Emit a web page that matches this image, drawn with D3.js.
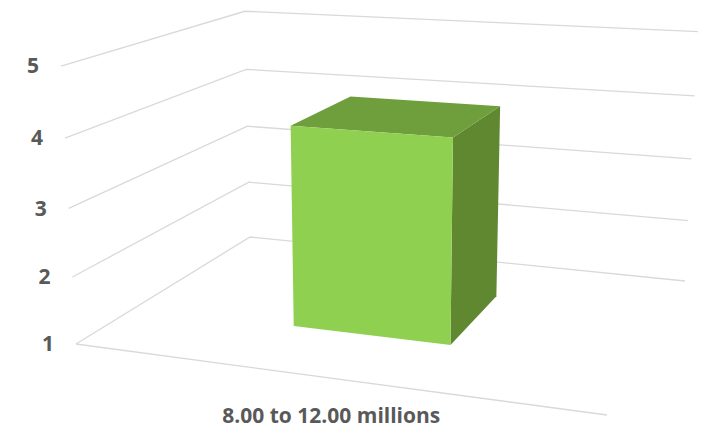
<!DOCTYPE html>
<html>
<head>
<meta charset="utf-8">
<script src="https://cdn.jsdelivr.net/npm/d3@7"></script>
<style>
body { margin: 0; background: #fff; }
text { font-family: "Open Sans", Lato, sans-serif; font-weight: bold; fill: #595959; }
</style>
</head>
<body>
<svg id="chart" width="706" height="435"></svg>
<script>
var categories = ["8.00 to 12.00 millions"];
var values = [4];
var yTicks = [1, 2, 3, 4, 5];

// corners of the 3d frame on screen (layout, not data)
var floorPts = [[0,0,76,344],[0,1,250,237],[1,1,685,281],[1,0,607,415]];
var topPts = [[0,0,61,66],[0,1,245,10],[1,1,698,33]];

function solve(A, b){
	var n = b.length, M = A.map(function(r, i){ return r.concat([b[i]]); });
	for(var i=0; i<n; i++){
		var p = i;
		for(var k=i+1; k<n; k++) if(Math.abs(M[k][i]) > Math.abs(M[p][i])) p = k;
		var t = M[i]; M[i] = M[p]; M[p] = t;
		for(var k=i+1; k<n; k++){
			var f = M[k][i] / M[i][i];
			for(var j=i; j<=n; j++) M[k][j] -= f * M[i][j];
		}
	}
	var x = new Array(n);
	for(var i=n-1; i>=0; i--){
		var s = M[i][n];
		for(var j=i+1; j<n; j++) s -= M[i][j] * x[j];
		x[i] = s / M[i][i];
	}
	return x;
}

// floor homography (X,Z) -> screen
var A = [], b = [];
floorPts.forEach(function(p){
	A.push([p[0], p[1], 1, 0, 0, 0, -p[2]*p[0], -p[2]*p[1]]); b.push(p[2]);
	A.push([0, 0, 0, p[0], p[1], 1, -p[3]*p[0], -p[3]*p[1]]); b.push(p[3]);
});
var h = solve(A, b);
function base(X, Z){
	return [h[0]*X + h[1]*Z + h[2], h[3]*X + h[4]*Z + h[5], h[6]*X + h[7]*Z + 1];
}
// vertical column, least squares over the top corners
var N = [[0,0,0],[0,0,0],[0,0,0]], r = [0,0,0];
topPts.forEach(function(p){
	var q = base(p[0], p[1]);
	var rows = [[[1,0,-p[2]], p[2]*q[2] - q[0]], [[0,1,-p[3]], p[3]*q[2] - q[1]]];
	rows.forEach(function(row){
		for(var i=0;i<3;i++){ r[i] += row[0][i]*row[1]; for(var j=0;j<3;j++) N[i][j] += row[0][i]*row[0][j]; }
	});
});
var cY = solve(N, r);

function proj(X, Y, Z){
	var q = base(X, Z);
	var w = q[2] + cY[2]*Y;
	return [(q[0] + cY[0]*Y) / w, (q[1] + cY[1]*Y) / w];
}

var y = d3.scaleLinear().domain([1, 5]).range([0, 1]);
var x = d3.scaleBand().domain(categories).range([0, 1]).padding(0.52);
var z = d3.scaleBand().domain(["s"]).range([0, 1]).padding(0.43);

var svg = d3.select("#chart");
var line = d3.line();

// gridlines
svg.append("g").selectAll("path").data(yTicks).join("path")
	.attr("d", function(t){ return line([proj(0, y(t), 0), proj(0, y(t), 1), proj(1, y(t), 1)]); })
	.attr("fill", "none").attr("stroke", "#d9d9d9").attr("stroke-width", 1.3);
svg.append("path")
	.attr("d", line([proj(0, 0, 0), proj(1, 0, 0)]))
	.attr("fill", "none").attr("stroke", "#d9d9d9").attr("stroke-width", 1.3);

// tick labels
svg.append("g").selectAll("text").data(yTicks).join("text")
	.attr("x", function(t){ return proj(0, y(t), 0)[0] - 22; })
	.attr("y", function(t){ return proj(0, y(t), 0)[1]; })
	.attr("dy", "0.35em").attr("text-anchor", "end").attr("font-size", 21)
	.text(function(t){ return t; });

// bars
var bars = svg.append("g").selectAll("g").data(values).join("g");
bars.each(function(v, i){
	var g = d3.select(this);
	var x0 = x(categories[i]), x1 = x0 + x.bandwidth();
	var z0 = z("s"), z1 = z0 + z.bandwidth();
	var yv = y(v);
	g.append("path").attr("fill", "#5f8831")
		.attr("d", line([proj(x1,0,z0), proj(x1,0,z1), proj(x1,yv,z1), proj(x1,yv,z0)]) + "Z");
	g.append("path").attr("fill", "#6f9e3c")
		.attr("d", line([proj(x0,yv,z0), proj(x1,yv,z0), proj(x1,yv,z1), proj(x0,yv,z1)]) + "Z");
	g.append("path").attr("fill", "#90d050")
		.attr("d", line([proj(x0,0,z0), proj(x1,0,z0), proj(x1,yv,z0), proj(x0,yv,z0)]) + "Z");
});

// category label
svg.append("g").selectAll("text").data(categories).join("text")
	.attr("x", function(c){ return proj(x(c) + x.bandwidth()/2, 0, 0)[0] + 7; })
	.attr("y", function(c){ return proj(x(c) + x.bandwidth()/2, 0, 0)[1] + 46; })
	.attr("text-anchor", "middle").attr("font-size", 21)
	.text(function(c){ return c; });
</script>
</body>
</html>
